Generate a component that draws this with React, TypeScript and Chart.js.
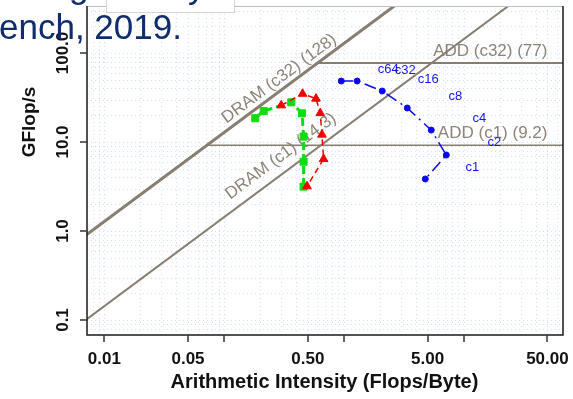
import React, { useEffect, useRef } from 'react';
import { Chart, registerables } from 'chart.js';
Chart.register(...registerables);

// ---- axis ticks ----
const xTickValues = [0.01, 0.05, 0.1, 0.5, 1, 5, 10, 50];
const xTickLabels = ['0.01', '0.05', '', '0.50', '', '5.00', '', '50.00'];
const yTickValues = [0.1, 1, 10, 100];
const yTickLabels = ['0.1', '1.0', '10.0', '100.0'];

// ---- roofs ----
const bandwidthNames = ['DRAM (c32)', 'DRAM (c1)'];
const bandwidthValues = [128, 14.3];
const bandwidthLabels = ['128', '14.3'];
const peakNames = ['ADD (c32)', 'ADD (c1)'];
const peakValues = [77, 9.2];
const peakLabels = ['77', '9.2'];

// ---- measured kernels ----
const blueX = [0.951, 1.29, 2.09, 3.38, 5.36, 7.16, 4.78];
const blueY = [48.4, 48.4, 37.4, 24.1, 13.6, 7.14, 3.84];
const redX = [0.3, 0.452, 0.585, 0.635, 0.656, 0.677, 0.492];
const redY = [25.8, 34.8, 30.7, 21.1, 12.1, 6.44, 3.18];
const greenX = [0.182, 0.214, 0.364, 0.447, 0.461, 0.461, 0.461];
const greenY = [18.5, 22.3, 27.9, 21.0, 11.5, 6.01, 3.15];

// ---- thread-count labels (annotation anchors, data units) ----
const threadLabels = ['c64', 'c32', 'c16', 'c8', 'c4', 'c2', 'c1'];
const threadLabelX = [2.35, 3.25, 5.06, 8.51, 13.5, 18.0, 11.8];
const threadLabelY = [66.1, 64.4, 51.0, 32.9, 18.6, 10.0, 5.24];

// roof label anchors (data units)
const bandwidthLabelX = [0.289, 0.2985];
const bandwidthLabelY = [51.0, 6.87];

const ROOF = '#877d70';
const ROOF_TEXT = '#8d8477';
const FONT = '"Liberation Sans", Arial, Helvetica, sans-serif';

const pts = (xs: number[], ys: number[]) => xs.map((v, i) => ({ x: v, y: ys[i] }));

const rooflinePlugin = {
  id: 'roofline',
  beforeDatasetsDraw(chart: any) {
    const { ctx, chartArea: a, scales } = chart;
    const x = scales.x, y = scales.y;
    ctx.save();
    ctx.strokeStyle = 'rgba(140,175,225,0.38)';
    ctx.lineWidth = 1;
    ctx.setLineDash([1, 3]);
    for (let e = -3; e <= 3; e++) {
      for (let m = 1; m <= 9; m++) {
        const v = m * Math.pow(10, e);
        const px = Math.round(x.getPixelForValue(v)) + 0.5;
        if (px > a.left + 2 && px < a.right - 2) {
          ctx.beginPath(); ctx.moveTo(px, a.top); ctx.lineTo(px, a.bottom); ctx.stroke();
        }
        const py = Math.round(y.getPixelForValue(v)) + 0.5;
        if (py > a.top + 2 && py < a.bottom - 2) {
          ctx.beginPath(); ctx.moveTo(a.left, py); ctx.lineTo(a.right, py); ctx.stroke();
        }
      }
    }
    ctx.setLineDash([]);
    // roof labels
    ctx.fillStyle = ROOF_TEXT;
    ctx.font = `17px ${FONT}`;
    bandwidthNames.forEach((n, i) => {
      const bw = bandwidthValues[i];
      const x1 = x.getPixelForValue(0.01), y1 = y.getPixelForValue(bw * 0.01);
      const x2 = x.getPixelForValue(1), y2 = y.getPixelForValue(bw);
      const ang = Math.atan2(y2 - y1, x2 - x1);
      const cx = x.getPixelForValue(bandwidthLabelX[i]);
      const cy = y.getPixelForValue(bandwidthLabelY[i]);
      ctx.save();
      ctx.translate(cx, cy);
      ctx.rotate(ang);
      ctx.textAlign = 'center';
      ctx.textBaseline = 'alphabetic';
      ctx.fillText(`${n} (${bandwidthLabels[i]})`, 0, 4.4);
      ctx.restore();
    });
    peakNames.forEach((n, i) => {
      const py = y.getPixelForValue(peakValues[i]);
      ctx.textAlign = 'right';
      ctx.textBaseline = 'alphabetic';
      ctx.fillText(`${n} (${peakLabels[i]})`, x.getPixelForValue(50), py - 7.5);
    });
    ctx.restore();
  },
  afterDatasetsDraw(chart: any) {
    const { ctx, scales } = chart;
    const x = scales.x, y = scales.y;
    ctx.save();
    ctx.fillStyle = '#1414ee';
    ctx.font = `13px ${FONT}`;
    ctx.textAlign = 'center';
    ctx.textBaseline = 'middle';
    threadLabels.forEach((t, i) => {
      ctx.fillText(t, x.getPixelForValue(threadLabelX[i]), y.getPixelForValue(threadLabelY[i]));
    });
    ctx.restore();
  },
  afterDraw(chart: any) {
    const { ctx, chartArea: a, scales } = chart;
    const x = scales.x, y = scales.y;
    ctx.save();
    // frame
    ctx.strokeStyle = '#bdbdbd';
    ctx.lineWidth = 1;
    ctx.beginPath(); ctx.moveTo(a.left, a.top + 0.5); ctx.lineTo(a.right, a.top + 0.5); ctx.stroke();
    ctx.strokeStyle = '#1a1a1a';
    ctx.lineWidth = 1.5;
    ctx.beginPath();
    ctx.moveTo(a.left, a.top); ctx.lineTo(a.left, a.bottom); ctx.lineTo(a.right, a.bottom); ctx.lineTo(a.right, a.top);
    ctx.stroke();
    // ticks
    ctx.strokeStyle = '#333';
    ctx.lineWidth = 1.5;
    xTickValues.forEach((v) => {
      const px = Math.round(x.getPixelForValue(v));
      ctx.beginPath(); ctx.moveTo(px, a.bottom); ctx.lineTo(px, a.bottom + 7); ctx.stroke();
    });
    yTickValues.forEach((v) => {
      const py = Math.round(y.getPixelForValue(v));
      ctx.beginPath(); ctx.moveTo(a.left - 7, py); ctx.lineTo(a.left, py); ctx.stroke();
    });
    // tick labels
    ctx.fillStyle = '#111';
    ctx.font = `bold 17px ${FONT}`;
    ctx.textAlign = 'center';
    ctx.textBaseline = 'alphabetic';
    xTickValues.forEach((v, i) => {
      if (xTickLabels[i]) ctx.fillText(xTickLabels[i], x.getPixelForValue(v), a.bottom + 29);
    });
    yTickValues.forEach((v, i) => {
      ctx.save();
      ctx.translate(a.left - 19, y.getPixelForValue(v));
      ctx.rotate(-Math.PI / 2);
      ctx.fillText(yTickLabels[i], 0, 0);
      ctx.restore();
    });
    // axis titles
    ctx.font = `bold 20px ${FONT}`;
    ctx.fillText('Arithmetic Intensity (Flops/Byte)', 324.5, a.bottom + 53);
    ctx.font = `bold 19px ${FONT}`;
    ctx.save();
    ctx.translate(35, 122);
    ctx.rotate(-Math.PI / 2);
    ctx.fillText('GFlop/s', 0, 0);
    ctx.restore();
    ctx.restore();
  },
};

export default function App() {
  const ref = useRef<HTMLCanvasElement>(null);
  useEffect(() => {
    if (!ref.current) return;
    const far = [0.0001, 10000];
    const roofDatasets: any[] = [];
    bandwidthValues.forEach((bw, i) => {
      roofDatasets.push({
        label: bandwidthNames[i],
        data: far.map((v) => ({ x: v, y: bw * v })),
        borderColor: ROOF,
        borderWidth: i === 0 ? 3 : 2,
        pointRadius: 0,
        fill: false,
      });
    });
    peakValues.forEach((p, i) => {
      roofDatasets.push({
        label: peakNames[i],
        data: [{ x: p / bandwidthValues[0], y: p }, { x: 10000, y: p }],
        borderColor: ROOF,
        borderWidth: i === 0 ? 2 : 1.5,
        pointRadius: 0,
        fill: false,
      });
    });
    const chart = new Chart(ref.current, {
      type: 'line',
      data: {
        datasets: [
          {
            label: 'blue',
            data: pts(blueX, blueY),
            borderColor: '#0a0ae8',
            backgroundColor: '#0a0ae8',
            borderWidth: 1.5,
            borderDash: [12, 5, 2, 5],
            pointStyle: 'circle',
            pointRadius: 3,
            pointBorderWidth: 1,
            fill: false,
          },
          {
            label: 'red',
            data: pts(redX, redY),
            borderColor: '#f00000',
            backgroundColor: '#f00000',
            borderWidth: 1.5,
            borderDash: [6, 4],
            pointStyle: 'triangle',
            pointRadius: 5,
            pointBorderWidth: 1,
            fill: false,
          },
          {
            label: 'green',
            data: pts(greenX, greenY),
            borderColor: '#10dd10',
            backgroundColor: '#10dd10',
            borderWidth: 3,
            borderDash: [8, 4],
            pointStyle: 'rect',
            pointRadius: 5,
            pointBorderWidth: 1,
            fill: false,
          },
          ...roofDatasets,
        ],
      },
      options: {
        animation: false,
        responsive: false,
        maintainAspectRatio: false,
        layout: { padding: { left: 87, right: 10, top: 6, bottom: 64 } },
        plugins: { legend: { display: false }, tooltip: { enabled: false } },
        elements: { line: { tension: 0 } },
        scales: {
          x: { type: 'logarithmic', min: 0.007172, max: 67.44, display: false },
          y: { type: 'logarithmic', min: 0.06783, max: 337.3, display: false },
        },
      },
      plugins: [rooflinePlugin],
    } as any);
    return () => chart.destroy();
  }, []);

  const slideText: React.CSSProperties = {
    position: 'absolute',
    fontFamily: FONT,
    fontSize: '35px',
    lineHeight: '35px',
    color: '#0f2c6c',
    whiteSpace: 'nowrap',
  };

  return (
    <div style={{ position: 'fixed', left: 0, top: 0, width: 573, height: 399, overflow: 'hidden', background: '#fff' }}>
      <canvas ref={ref} width={573} height={399} style={{ position: 'absolute', left: 0, top: 0, width: 573, height: 399 }} />
      <div style={{ position: 'absolute', left: 106, top: -2, width: 129, height: 15, background: '#fff', border: '1px solid #d4d4d4', boxSizing: 'border-box' }} />
      <div style={{ ...slideText, left: 69, top: -32 }}>g</div>
      <div style={{ ...slideText, left: 188, top: -32 }}>y</div>
      <div style={{ ...slideText, left: -1, top: 9 }}>ench, 2019.</div>
    </div>
  );
}
